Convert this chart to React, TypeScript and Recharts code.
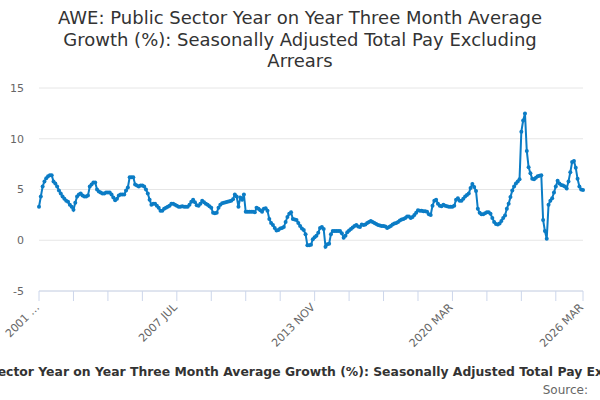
import { CartesianGrid, Line, LineChart, XAxis, YAxis } from "recharts"

const MONTHS = ["JAN", "FEB", "MAR", "APR", "MAY", "JUN", "JUL", "AUG", "SEP", "OCT", "NOV", "DEC"]

// monthly categories, 2001 MAR .. 2026 MAR
const categories = Array.from({ length: 301 }, (_, i) => {
  const m = 2 + i
  return `${2001 + Math.floor(m / 12)} ${MONTHS[m % 12]}`
})

const growth = [
  3.3, 4.3, 5.3, 5.8, 6.1, 6.3, 6.4, 6.4, 5.8, 5.6,
  5.3, 4.9, 4.6, 4.3, 4.1, 3.9, 3.8, 3.5, 3.3, 3.0,
  3.7, 4.3, 4.5, 4.6, 4.4, 4.3, 4.3, 4.4, 5.3, 5.5,
  5.7, 5.7, 5.0, 4.8, 4.7, 4.6, 4.6, 4.7, 4.7, 4.7,
  4.5, 4.2, 3.95, 4.1, 4.4, 4.5, 4.5, 4.5, 4.9, 5.2,
  6.2, 6.2, 6.2, 5.5, 5.4, 5.3, 5.4, 5.4, 5.3, 5.0,
  4.6, 4.0, 3.5, 3.6, 3.6, 3.4, 3.2, 2.9, 2.9, 3.1,
  3.2, 3.3, 3.4, 3.6, 3.6, 3.5, 3.4, 3.3, 3.3, 3.35,
  3.3, 3.3, 3.3, 3.5, 3.8, 4.0, 3.75, 3.45, 3.4, 3.6,
  3.9, 3.75, 3.6, 3.5, 3.35, 3.2, 2.7, 2.65, 2.7, 3.2,
  3.5, 3.65, 3.7, 3.75, 3.8, 3.85, 3.9, 4.05, 4.5, 4.3,
  3.3, 4.2, 4.0, 4.5, 2.8, 2.8, 2.8, 2.8, 2.8, 2.75,
  3.2, 3.1, 2.95, 2.8, 3.1, 3.15, 2.9, 2.1, 1.7, 1.5,
  1.2, 0.95, 1.0, 1.15, 1.2, 1.3, 1.8, 2.3, 2.6, 2.75,
  2.1, 2.05, 2.0, 1.7, 1.4, 1.15, 1.0, 0.6, -0.5, -0.5,
  -0.45, 0.1, 0.3, 0.45, 0.75, 1.2, 1.3, 1.1, -0.65, -0.4,
  -0.35, 0.6, 0.9, 0.9, 0.9, 0.9, 0.9, 0.7, 0.25, 0.45,
  0.8, 0.95, 1.1, 1.25, 1.4, 1.5, 1.35, 1.3, 1.55, 1.5,
  1.55, 1.7, 1.8, 1.9, 1.8, 1.7, 1.6, 1.5, 1.45, 1.4,
  1.4, 1.35, 1.2, 1.3, 1.4, 1.55, 1.65, 1.7, 1.8, 1.95,
  2.05, 2.1, 2.2, 2.35, 2.35, 2.2, 2.3, 2.5, 2.7, 2.95,
  2.9, 2.9, 2.85, 2.85, 2.8, 2.55, 2.5, 3.4, 3.9, 4.0,
  3.6, 3.4, 3.35, 3.5, 3.4, 3.35, 3.3, 3.3, 3.3, 3.4,
  4.0, 4.15, 3.9, 3.9, 4.1, 4.3, 4.45, 4.6, 5.15, 5.55,
  5.25, 4.85, 3.1, 2.7, 2.55, 2.55, 2.65, 2.75, 2.75, 2.6,
  2.2, 1.8, 1.6, 1.55, 1.65, 1.9, 2.2, 2.45, 3.1, 3.6,
  4.25, 4.9, 5.3, 5.6, 5.8, 6.0, 10.7, 11.8, 12.5, 8.8,
  7.2, 6.6, 6.05, 6.0, 6.15, 6.3, 6.35, 6.4, 2.0, 0.9,
  0.15, 3.5, 3.9, 4.15, 4.7, 5.3, 5.85, 5.6, 5.45, 5.4,
  5.3, 5.1, 5.8, 6.7, 7.7, 7.8, 7.15, 6.05, 5.3, 5.0, 4.95,
]

const tickMarks = [
  "2001 MAR", "2002 OCT", "2004 MAY", "2005 DEC", "2007 JUL", "2009 FEB", "2010 SEP",
  "2012 APR", "2013 NOV", "2015 JUN", "2017 JAN", "2018 AUG", "2020 MAR", "2021 OCT",
  "2023 MAY", "2024 DEC", "2026 MAR",
]
const tickLabels = ["2001 …", "2007 JUL", "2013 NOV", "2020 MAR", "2026 MAR"]
const labelledTicks = ["2001 MAR", "2007 JUL", "2013 NOV", "2020 MAR", "2026 MAR"]
const yTicks = [-5, 0, 5, 10, 15]

const title =
  "AWE: Public Sector Year on Year Three Month Average Growth (%): Seasonally Adjusted Total Pay Excluding Arrears"
const titleLines = [
  "AWE: Public Sector Year on Year Three Month Average",
  "Growth (%): Seasonally Adjusted Total Pay Excluding",
  "Arrears",
]

const data = categories.map((month, i) => ({ month, value: growth[i] }))

const FONT = "'DejaVu Sans', sans-serif"
const BLUE = "#0b7cc5"

function MonthTick(props: any) {
  const { x, y, payload } = props
  const k = labelledTicks.indexOf(payload.value)
  if (k < 0) return null
  return (
    <g transform={`translate(${x + 1},${y + 5})`}>
      <text transform="rotate(-45)" textAnchor="end" fontSize={11} fill="#666666" fontFamily={FONT}>
        {tickLabels[k]}
      </text>
    </g>
  )
}

export default function App() {
  return (
    <div style={{ position: "relative", width: 600, height: 400, overflow: "hidden", fontFamily: FONT, background: "#fff" }}>
      <style>{`body{margin:0}`}</style>
      <div style={{ position: "absolute", top: 7, left: 0, width: 600, textAlign: "center", fontSize: 18, lineHeight: "21.5px", color: "#333333" }}>
        {titleLines.map((l) => (
          <div key={l}>{l}</div>
        ))}
      </div>
      <LineChart width={600} height={400} data={data} margin={{ top: 88, right: 17, bottom: 0, left: 0 }}>
        <CartesianGrid vertical={false} stroke="#e6e6e6" />
        <XAxis
          dataKey="month"
          ticks={tickMarks}
          interval={0}
          height={109}
          tickSize={10}
          axisLine={{ stroke: "#ccd6eb" }}
          tickLine={{ stroke: "#ccd6eb" }}
          tick={<MonthTick />}
        />
        <YAxis
          domain={[-5, 15]}
          ticks={yTicks}
          width={39}
          axisLine={false}
          tickLine={false}
          tickMargin={9}
          tick={{ fontSize: 11, fill: "#666666", fontFamily: FONT }}
        />
        <Line
          dataKey="value"
          stroke={BLUE}
          strokeWidth={2}
          dot={{ r: 2, fill: BLUE, stroke: BLUE, strokeWidth: 0 }}
          isAnimationActive={false}
        />
      </LineChart>
      <div style={{ position: "absolute", top: 364, left: -194, width: 1000, textAlign: "center", whiteSpace: "nowrap", fontSize: 12.4, fontWeight: "bold", color: "#333333" }}>
        {title}
      </div>
      <div style={{ position: "absolute", top: 383, right: 12, fontSize: 12, color: "#666666" }}>Source:</div>
    </div>
  )
}
